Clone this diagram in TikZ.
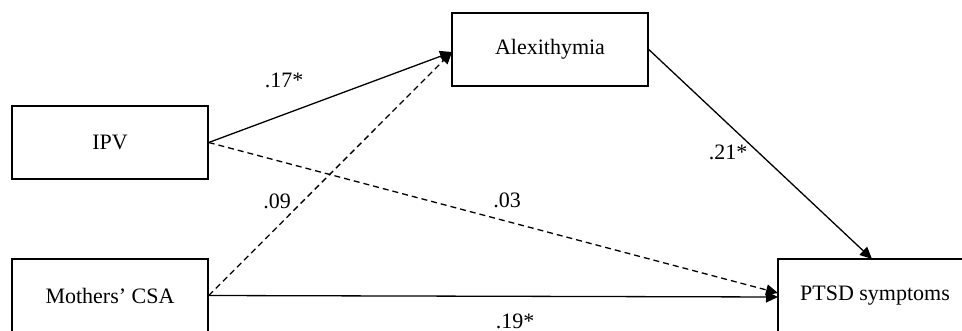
\documentclass[tikz,border=0pt]{standalone}
\usepackage{fontspec}
\setmainfont{Liberation Serif}
\usetikzlibrary{arrows.meta}
\begin{document}
\begin{tikzpicture}[x=1pt,y=-1pt,
  box/.style={draw=black, line width=1.5pt, minimum width=196pt, minimum height=73pt, inner sep=0pt, font=\fontsize{22}{26}\selectfont},
  lbl/.style={inner sep=0pt, font=\fontsize{22}{26}\selectfont},
  conn/.style={line width=1.3pt, -{Triangle[length=12pt,width=11pt]}},
  dconn/.style={conn, dash pattern=on 6pt off 4pt}]
\useasboundingbox (0,0) rectangle (962,331);
\node[box] (ipv) at (110,142.5) {IPV};
\node[box] (csa) at (110,295.5) {Mothers’ CSA};
\node[box] (alex) at (550,49.5) {Alexithymia};
\node[box, minimum width=194pt] (ptsd) at (875,295.5) {PTSD symptoms};
\coordinate (alexin) at (452,52);
\coordinate (ptsdin) at (778,297);
\coordinate (ptsdind) at (778,293);
\coordinate (ptsdtop) at (872,259);
\draw[conn] (ipv.east) -- (alexin);
\draw[dconn] (ipv.east) -- (ptsdind);
\draw[dconn] (csa.east) -- (alexin);
\draw[conn] (csa.east) -- (ptsdin);
\draw[conn] (alex.east) -- (ptsdtop);
\node[lbl] (l17) at (284,80) {.17*};
\node[lbl] (l21) at (728,152) {.21*};
\node[lbl] (l09) at (277,201) {.09};
\node[lbl] (l03) at (507,200) {.03};
\node[lbl] (l19) at (515,321) {.19*};
\end{tikzpicture}
\end{document}
